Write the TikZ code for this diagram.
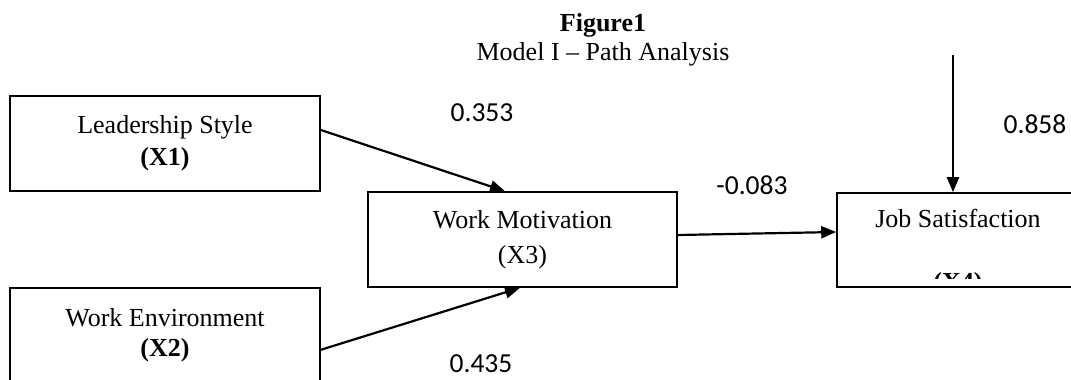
\documentclass[tikz,border=0pt]{standalone}
\usepackage{fontspec}
\setmainfont{Liberation Serif}
\newfontfamily\calibri{Carlito}
\usetikzlibrary{arrows.meta}

\begin{document}
\begin{tikzpicture}[
        x=1pt, y=-1pt,
        every node/.style={font=\fontsize{26}{32}\selectfont},
        varbox/.style={draw, line width=1.6pt, minimum width=310pt, minimum height=95pt,
          align=center, inner sep=0pt},
        coef/.style={font=\calibri\fontsize{27.5}{30}\selectfont, inner sep=0pt, anchor=base},
        effect/.style={-{Triangle[length=15pt,width=12pt]}, line width=2.2pt}
    ]
      \useasboundingbox (0,0) rectangle (1071,380);
      \clip (0,0) rectangle (1071,380);

      % Titel
      \node[anchor=base, inner sep=0pt] (title) at (603,31) {\textbf{Figure1}};
      \node[anchor=base, inner sep=0pt] (subtitle) at (603,60) {Model I -- Path Analysis};

      % Variablen
      \node[varbox] (x1) at (165,143.5) {Leadership Style\\\textbf{(X1)}};
      \node[varbox, anchor=north] (x2) at (165,287) {Work Environment\\[-2pt]\textbf{(X2)}};
      \node[varbox, minimum width=309pt] (x3) at (522.5,239.5) {Work Motivation\\[3pt](X3)};
      \node[varbox, minimum width=242pt, minimum height=94pt] (x4) at (958,240) {};
      \node[anchor=base, inner sep=0pt] (x4name) at (958,227) {Job Satisfaction};
      \begin{scope}
        \clip (837,193) rectangle (1079,278);
        \node[anchor=base, inner sep=0pt] (x4code) at (958,290) {\textbf{(X4)}};
      \end{scope}
      \coordinate (err) at (953,55);

      % Pfade
      \draw[effect] ([yshift=13.5pt]x1.east) -- ([xshift=-17.5pt]x3.north);
      \draw[effect] ([yshift=-14.5pt]x2.east) -- ([xshift=-2.5pt]x3.south);
      \draw[effect] ([yshift=4.5pt]x3.east) -- ([yshift=8pt]x4.west);
      \draw[effect] (err) -- ([xshift=-5pt]x4.north);

      % Koeffizienten
      \node[coef] (c13) at (482,121) {0.353};
      \node[coef] (c23) at (481,372) {0.435};
      \node[coef] (c34) at (752,194) {-0.083};
      \node[coef] (ce4) at (1035,133) {0.858};
    \end{tikzpicture}
\end{document}
